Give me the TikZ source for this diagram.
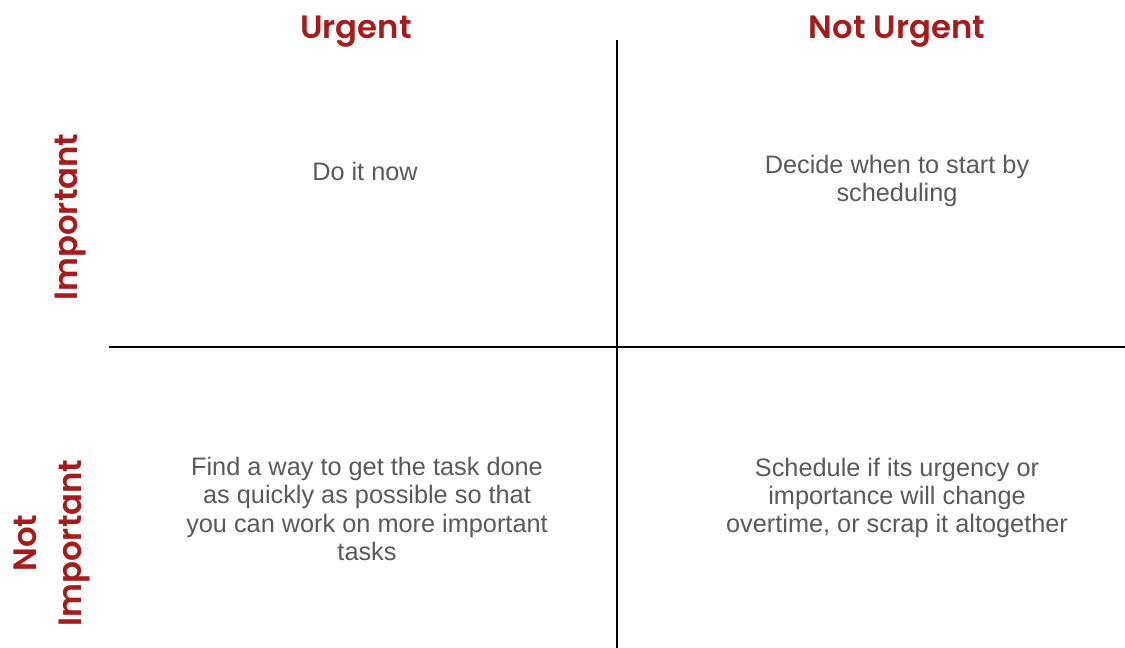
\documentclass[tikz,border=0pt]{standalone}
\usepackage{fontspec}
\setmainfont{Liberation Sans}
\newfontfamily\headfont{Poppins}[BoldFont={Poppins SemiBold}]
\definecolor{headred}{HTML}{A61C1C}
\definecolor{bodygray}{HTML}{595959}

\tikzstyle{head}=[text=headred, font=\headfont\bfseries\fontsize{23}{32}\selectfont, inner sep=0pt, align=center]
\tikzstyle{side}=[head, rotate=90]
\tikzstyle{task}=[text=bodygray, font=\fontsize{18}{20}\selectfont, inner sep=0pt, align=center]
\tikzstyle{axis}=[line width=1.4pt, black]

\begin{document}
\begin{tikzpicture}
    \useasboundingbox (0, 0) rectangle (28.125, 16.2);

    \node[head, anchor=base] (urg)  at (8.9, 15.225)    {Urgent};
    \node[head, anchor=base] (nurg) at (22.425, 15.225) {Not Urgent};
    \node[side] (imp)  at (1.75, 10.775) {Important};
    \node[side] (nimp) at (1.3, 2.625)   {Not\\Important};

    \node[task] (q1) at (9.125, 11.925) {Do it now};
    \node[task] (q2) at (22.425, 11.675) {Decide when to start by\\scheduling};
    \node[task] (q3) at (9.175, 3.475)  {Find a way to get the task done\\as quickly as possible so that\\you can work on more important\\tasks};
    \node[task] (q4) at (22.425, 3.75)  {Schedule if its urgency or\\importance will change\\overtime, or scrap it altogether};

    \coordinate (top)    at (15.425, 15.2);
    \coordinate (bottom) at (15.425, 0);
    \coordinate (left)   at (2.725, 7.525);
    \coordinate (right)  at (28.125, 7.525);
    \draw[axis] (top) -- (bottom);
    \draw[axis] (left) -- (right);
\end{tikzpicture}
\end{document}
